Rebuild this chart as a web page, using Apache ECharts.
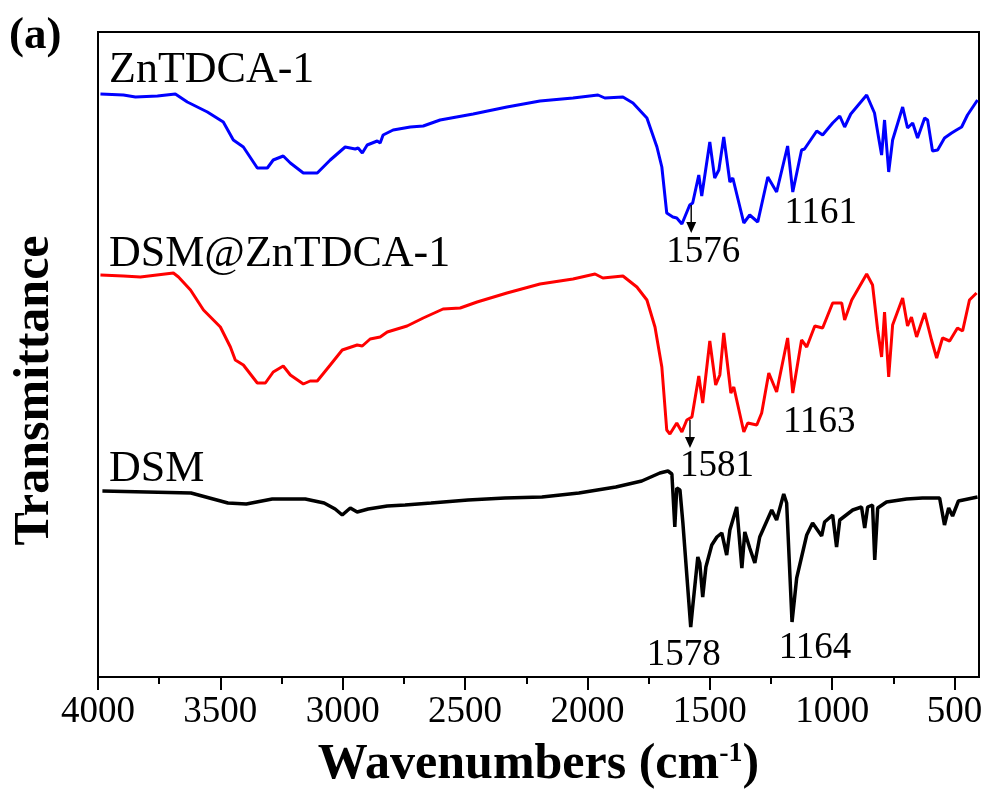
<!DOCTYPE html>
<html>
<head>
<meta charset="utf-8">
<script src="https://cdn.jsdelivr.net/npm/echarts@6/dist/echarts.min.js"></script>
<style>
  html, body { margin: 0; padding: 0; background: #ffffff; }
  #chart { width: 992px; height: 802px; }
</style>
</head>
<body>
<div id="chart"></div>
<script>
// FTIR spectra, stacked (transmittance in arbitrary units), wavenumber in cm-1

const majorTicks = [4000, 3500, 3000, 2500, 2000, 1500, 1000, 500];
const minorTicks = [3750, 3250, 2750, 2250, 1750, 1250, 750];

// ZnTDCA-1
const znTDCA1 = [
  [3990,116.6],[3896,116.4],[3847,116.0],[3757,116.2],[3684,116.6],[3635,115.0],[3553,113.0],
  [3488,111.0],[3447,107.4],[3406,106.0],[3349,101.8],[3308,101.8],[3284,103.4],[3243,104.2],
  [3214,102.8],[3161,100.8],[3104,100.8],[3051,103.4],[2990,106.0],[2949,105.6],[2937,105.8],
  [2920,104.8],[2900,106.4],[2859,107.2],[2847,106.8],[2835,108.4],[2794,109.4],[2724,110.0],
  [2671,110.2],[2602,111.4],[2467,112.6],[2329,114.0],[2194,115.2],[2059,115.8],[1957,116.4],
  [1929,115.8],[1855,116.0],[1814,114.8],[1757,111.8],[1716,106.0],[1696,102.0],[1676,92.8],
  [1651,92.0],[1635,91.8],[1614,90.6],[1582,94.4],[1570,94.8],[1545,100.4],[1533,96.2],
  [1500,107.0],[1480,99.8],[1463,101.4],[1443,108.0],[1418,99.0],[1406,99.8],[1361,90.8],
  [1337,92.4],[1304,91.0],[1263,100.0],[1227,97.0],[1182,106.2],[1161,97.0],[1125,105.4],
  [1113,105.6],[1063,109.2],[1039,108.4],[998,110.8],[969,112.2],[949,110.0],[924,112.6],
  [859,116.4],[827,112.8],[810,107.8],[798,104.4],[786,111.4],[769,101.0],[753,107.4],
  [712,114.0],[692,109.8],[671,110.8],[651,107.8],[622,111.8],[610,111.4],[590,105.2],
  [569,105.4],[541,107.8],[512,108.8],[492,109.4],[471,110.0],[447,112.4],[406,115.4]
];

// DSM@ZnTDCA-1
const dsmZnTDCA1 = [
  [3990,80.4],[3896,80.2],[3827,80.0],[3692,80.8],[3671,80.0],[3622,77.4],[3569,73.4],
  [3500,70.0],[3459,66.0],[3439,63.4],[3406,62.4],[3349,58.8],[3316,58.8],[3284,61.0],
  [3243,62.2],[3214,60.4],[3161,58.6],[3133,59.2],[3104,59.2],[3051,62.4],[3002,65.4],
  [2941,66.4],[2920,66.2],[2888,67.6],[2847,68.0],[2818,69.0],[2737,70.2],[2671,71.8],
  [2590,73.6],[2520,73.8],[2451,75.0],[2329,76.8],[2194,78.6],[2059,79.6],[1969,80.6],
  [1937,79.8],[1855,80.2],[1798,78.0],[1757,75.4],[1724,70.0],[1696,62.0],[1676,49.4],
  [1663,48.6],[1635,50.8],[1614,49.0],[1594,51.4],[1573,52.0],[1545,60.2],[1529,54.8],
  [1500,67.2],[1476,58.4],[1459,60.4],[1443,68.8],[1414,56.8],[1402,58.0],[1361,49.0],
  [1345,50.8],[1308,50.4],[1288,52.8],[1259,60.8],[1227,57.0],[1182,67.8],[1161,56.8],
  [1125,67.4],[1104,66.0],[1071,70.2],[1039,69.8],[998,74.8],[961,74.8],[949,71.4],
  [920,75.4],[859,80.6],[835,78.4],[814,69.4],[798,64.0],[786,73.0],[769,60.0],[753,70.4],
  [712,75.8],[692,70.2],[676,72.0],[655,68.0],[622,72.8],[594,67.4],[573,63.8],[549,67.8],
  [520,67.2],[488,69.8],[467,69.2],[439,75.4],[410,76.8]
];

// DSM
const dsm = [
  [3982,37.2],[3620,36.8],[3469,34.8],[3394,34.6],[3288,35.6],[3153,35.6],[3076,34.8],
  [3031,33.6],[3002,32.4],[2969,33.8],[2941,33.0],[2896,33.6],[2818,34.2],[2745,34.4],
  [2639,34.8],[2488,35.4],[2337,35.8],[2186,36.0],[2035,36.8],[1884,38.0],[1778,39.2],
  [1704,40.8],[1671,41.2],[1655,40.6],[1643,30.0],[1635,37.8],[1622,37.4],[1610,30.8],
  [1578,10.0],[1570,14.0],[1549,24.0],[1541,22.8],[1529,16.0],[1516,22.0],[1492,26.4],
  [1471,28.0],[1451,28.8],[1431,24.4],[1418,29.4],[1390,34.0],[1369,21.8],[1357,29.0],
  [1337,25.8],[1316,22.8],[1296,28.0],[1247,33.4],[1227,31.4],[1198,36.6],[1186,34.8],
  [1164,11.0],[1145,19.8],[1104,28.4],[1080,30.8],[1043,28.2],[1031,31.0],[998,32.4],
  [982,26.0],[969,31.4],[916,33.4],[880,34.0],[867,29.8],[855,34.0],[835,34.4],[826,23.4],
  [814,33.8],[778,35.0],[696,35.6],[631,35.8],[561,35.8],[541,30.4],[524,33.8],[508,32.2],
  [484,35.2],[406,36.0]
];

// Annotated band positions: [wavenumber, anchor value on the curve]
const znPeaks = [[1576, 94.4], [1161, 97.0]];
const dsmZnPeaks = [[1581, 51.4], [1163, 56.8]];
const dsmPeaks = [[1578, 10.0], [1164, 11.0]];

const serif = '"Liberation Serif", "Times New Roman", serif';
const arrowPath = 'path://M4.3,0 L5.7,0 L5.7,17 L10,17 L5,28 L0,17 L4.3,17 Z';

function peakMarks(peaks, offsets, arrowIdx) {
  const items = [];
  peaks.forEach((p, i) => {
    items.push({
      coord: p,
      symbol: 'rect',
      symbolSize: 1,
      itemStyle: { color: 'rgba(0,0,0,0)' },
      label: {
        show: true, position: 'inside', offset: offsets[i],
        formatter: String(p[0]), color: '#000',
        fontFamily: serif, fontSize: 37
      }
    });
    if (i === arrowIdx) {
      items.push({
        coord: p,
        symbol: arrowPath,
        symbolSize: [10, 28],
        symbolOffset: [0, 14],
        itemStyle: { color: '#000' },
        label: { show: false }
      });
    }
  });
  return { silent: true, animation: false, data: items };
}

const chart = echarts.init(document.getElementById('chart'), null, { renderer: 'canvas' });

chart.setOption({
  animation: false,
  backgroundColor: '#ffffff',
  grid: {
    left: 98, right: 13, top: 32, bottom: 125,
    containLabel: false, outerBoundsMode: 'none',
    show: true, borderColor: '#000', borderWidth: 2, backgroundColor: 'transparent'
  },
  xAxis: [
    {
      type: 'value', min: 400, max: 4000, inverse: true,
      name: '{t|Wavenumbers (cm}{s|-1}{t|)}',
      nameLocation: 'middle', nameGap: 63,
      nameTextStyle: {
        rich: {
          t: { fontFamily: serif, fontWeight: 'bold', fontSize: 50, color: '#000' },
          s: { fontFamily: serif, fontWeight: 'bold', fontSize: 28, color: '#000', verticalAlign: 'top', padding: [0, 0, 22, 0] }
        }
      },
      axisLine: { show: true, onZero: false, lineStyle: { color: '#000', width: 2 } },
      axisTick: { show: true, inside: false, length: 13, customValues: majorTicks, lineStyle: { color: '#000', width: 2 } },
      axisLabel: {
        show: true, customValues: majorTicks, margin: 17, color: '#000',
        fontFamily: serif, fontSize: 37, formatter: v => String(v)
      },
      splitLine: { show: false }
    },
    {
      type: 'value', min: 400, max: 4000, inverse: true, position: 'bottom',
      axisLine: { show: false, onZero: false },
      axisTick: { show: true, inside: false, length: 7, customValues: minorTicks, lineStyle: { color: '#000', width: 2 } },
      axisLabel: { show: false },
      splitLine: { show: false }
    }
  ],
  yAxis: {
    type: 'value', min: 0, max: 129,
    name: 'Transmittance', nameLocation: 'middle', nameGap: 38,
    nameTextStyle: { fontFamily: serif, fontWeight: 'bold', fontSize: 50, color: '#000', padding: [0, 72, 0, 0] },
    axisLine: { show: true, lineStyle: { color: '#000', width: 2 } },
    axisTick: { show: false },
    axisLabel: { show: false },
    splitLine: { show: false }
  },
  series: [
    {
      name: 'ZnTDCA-1', type: 'line', data: znTDCA1, showSymbol: false,
      lineStyle: { color: '#0000ff', width: 3 }, itemStyle: { color: '#0000ff' },
      markPoint: peakMarks(znPeaks, [[12, 47], [28, 21]], 0)
    },
    {
      name: 'DSM@ZnTDCA-1', type: 'line', data: dsmZnTDCA1, showSymbol: false,
      lineStyle: { color: '#ff0000', width: 3 }, itemStyle: { color: '#ff0000' },
      markPoint: peakMarks(dsmZnPeaks, [[27, 46], [27, 29]], 0)
    },
    {
      name: 'DSM', type: 'line', data: dsm, showSymbol: false,
      lineStyle: { color: '#000000', width: 3.5 }, itemStyle: { color: '#000000' },
      markPoint: peakMarks(dsmPeaks, [[-7, 28], [23, 26]], -1)
    }
  ],
  graphic: [
    { type: 'text', style: { x: 9, y: 36, text: '(a)', fill: '#000', fontFamily: serif, fontWeight: 'bold', fontSize: 45, verticalAlign: 'middle' } },
    { type: 'text', style: { x: 109, y: 70, text: 'ZnTDCA-1', fill: '#000', fontFamily: serif, fontSize: 44, verticalAlign: 'middle' } },
    { type: 'text', style: { x: 109, y: 254, text: 'DSM@ZnTDCA-1', fill: '#000', fontFamily: serif, fontSize: 44, verticalAlign: 'middle' } },
    { type: 'text', style: { x: 109, y: 469, text: 'DSM', fill: '#000', fontFamily: serif, fontSize: 44, verticalAlign: 'middle' } }
  ]
});
</script>
</body>
</html>
